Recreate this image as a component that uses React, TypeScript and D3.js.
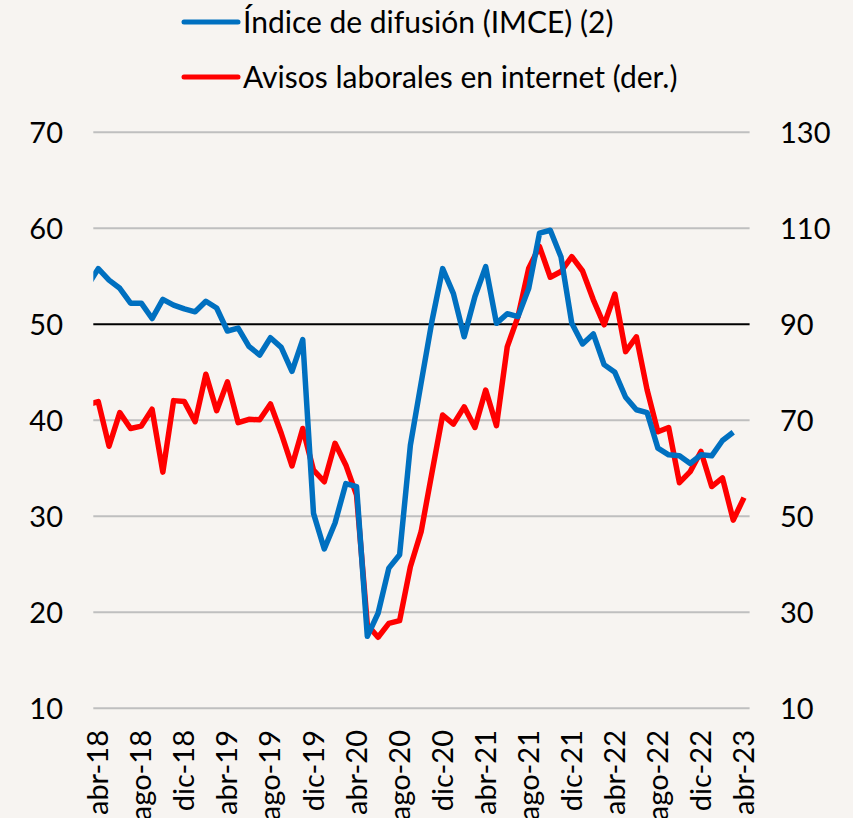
import React from "react";
import * as d3 from "d3";

const categories = [
  "mar-18","abr-18","may-18","jun-18","jul-18","ago-18","sep-18","oct-18","nov-18","dic-18",
  "ene-19","feb-19","mar-19","abr-19","may-19","jun-19","jul-19","ago-19","sep-19","oct-19","nov-19","dic-19",
  "ene-20","feb-20","mar-20","abr-20","may-20","jun-20","jul-20","ago-20","sep-20","oct-20","nov-20","dic-20",
  "ene-21","feb-21","mar-21","abr-21","may-21","jun-21","jul-21","ago-21","sep-21","oct-21","nov-21","dic-21",
  "ene-22","feb-22","mar-22","abr-22","may-22","jun-22","jul-22","ago-22","sep-22","oct-22","nov-22","dic-22",
  "ene-23","feb-23","mar-23","abr-23"
];

const tickLabels = [
  "abr-18","ago-18","dic-18","abr-19","ago-19","dic-19","abr-20","ago-20","dic-20",
  "abr-21","ago-21","dic-21","abr-22","ago-22","dic-22","abr-23"
];

const imce: (number | null)[] = [
  54.0, 55.8, 54.6, 53.75, 52.2, 52.2, 50.6, 52.6, 52.0, 51.6,
  51.3, 52.4, 51.7, 49.3, 49.6, 47.7, 46.8, 48.6, 47.6, 45.1, 48.4, 30.3,
  26.6, 29.3, 33.4, 33.1, 17.5, 19.9, 24.6, 26.0, 37.4, 43.9, 50.3, 55.8,
  53.2, 48.7, 52.9, 56.0, 50.1, 51.1, 50.8, 53.75, 59.5, 59.8, 57.0, 50.1,
  47.95, 49.0, 45.8, 45.0, 42.4, 41.1, 40.8, 37.1, 36.4, 36.3, 35.5, 36.4,
  36.3, 37.9, 38.75, null
];

const avisos: number[] = [
  73.2, 73.9, 64.6, 71.6, 68.3, 68.8, 72.3, 59.2, 74.1, 73.9,
  69.7, 79.6, 72.0, 78.0, 69.5, 70.2, 70.1, 73.4, 67.3, 60.5, 68.3, 59.6,
  57.2, 65.2, 60.7, 54.4, 27.4, 24.8, 27.7, 28.25, 39.5, 46.8, 59.0, 71.1,
  69.2, 72.8, 68.5, 76.3, 68.9, 85.3, 91.6, 101.7, 106.2, 99.8, 101.0, 104.1,
  101.1, 95.1, 89.9, 96.3, 84.3, 87.4, 76.3, 67.6, 68.5, 57.0, 59.3, 63.5,
  56.2, 58.0, 49.2, 53.9
];

const leftTicks = [10, 20, 30, 40, 50, 60, 70];
const rightTicks = [10, 30, 50, 70, 90, 110, 130];

const seriesNames = ["Índice de difusión (IMCE) (2)", "Avisos laborales en internet (der.)"];

const W = 853;
const H = 818;
const plotLeft = 93.3;
const plotRight = 749.6;
const plotTop = 132.3;
const plotBottom = 708.3;
const FONT = "Lato, 'Open Sans', sans-serif";

export default function App() {
  const x = d3.scalePoint<string>().domain(categories).range([87.5, 744]);
  const yL = d3.scaleLinear().domain([10, 70]).range([plotBottom, plotTop]);
  const yR = d3.scaleLinear().domain([10, 130]).range([plotBottom, plotTop]);

  const lineL = d3
    .line<number | null>()
    .defined((d) => d !== null)
    .x((_, i) => x(categories[i]) as number)
    .y((d) => yL(d as number));
  const lineR = d3
    .line<number>()
    .x((_, i) => x(categories[i]) as number)
    .y((d) => yR(d));

  return (
    <svg
      width={W}
      height={H}
      style={{ position: "absolute", left: 0, top: 0, display: "block", background: "#F7F4F1" }}
    >
      <rect x={0} y={0} width={W} height={H} fill="#F7F4F1" />
      <defs>
        <clipPath id="plotClip">
          <rect x={plotLeft} y={0} width={plotRight - plotLeft} height={H} />
        </clipPath>
      </defs>
      {leftTicks.map((t) => (
        <line
          key={"g" + t}
          x1={plotLeft}
          x2={plotRight}
          y1={yL(t)}
          y2={yL(t)}
          stroke={t === 50 ? "#000000" : "#BFBFBF"}
          strokeWidth={2}
        />
      ))}
      {leftTicks.map((t) => (
        <text
          key={"l" + t}
          x={63}
          y={yL(t)}
          dy="0.36em"
          textAnchor="end"
          fontFamily={FONT}
          fontSize={29}
          fill="#000"
        >
          {t}
        </text>
      ))}
      {rightTicks.map((t) => (
        <text
          key={"r" + t}
          x={780}
          y={yR(t)}
          dy="0.36em"
          textAnchor="start"
          fontFamily={FONT}
          fontSize={29}
          fill="#000"
        >
          {t}
        </text>
      ))}
      {tickLabels.map((lab) => {
        const px = x(lab) as number;
        return (
          <text
            key={lab}
            transform={`translate(${px + 10},730) rotate(-90)`}
            textAnchor="end"
            fontFamily={FONT}
            fontSize={29}
            fill="#000"
          >
            {lab}
          </text>
        );
      })}
      <g clipPath="url(#plotClip)">
        <path d={lineR(avisos) || ""} fill="none" stroke="#FF0000" strokeWidth={5.5} strokeLinejoin="round" />
        <path d={lineL(imce) || ""} fill="none" stroke="#0070C0" strokeWidth={5.5} strokeLinejoin="round" />
      </g>
      <line x1={184} x2={238} y1={22} y2={22} stroke="#0070C0" strokeWidth={5} strokeLinecap="round" />
      <text x={243} y={33} fontFamily={FONT} fontSize={30} fill="#000">
        {seriesNames[0]}
      </text>
      <line x1={184} x2={238} y1={77} y2={77} stroke="#FF0000" strokeWidth={5} strokeLinecap="round" />
      <text x={243} y={88} fontFamily={FONT} fontSize={30} fill="#000">
        {seriesNames[1]}
      </text>
    </svg>
  );
}
